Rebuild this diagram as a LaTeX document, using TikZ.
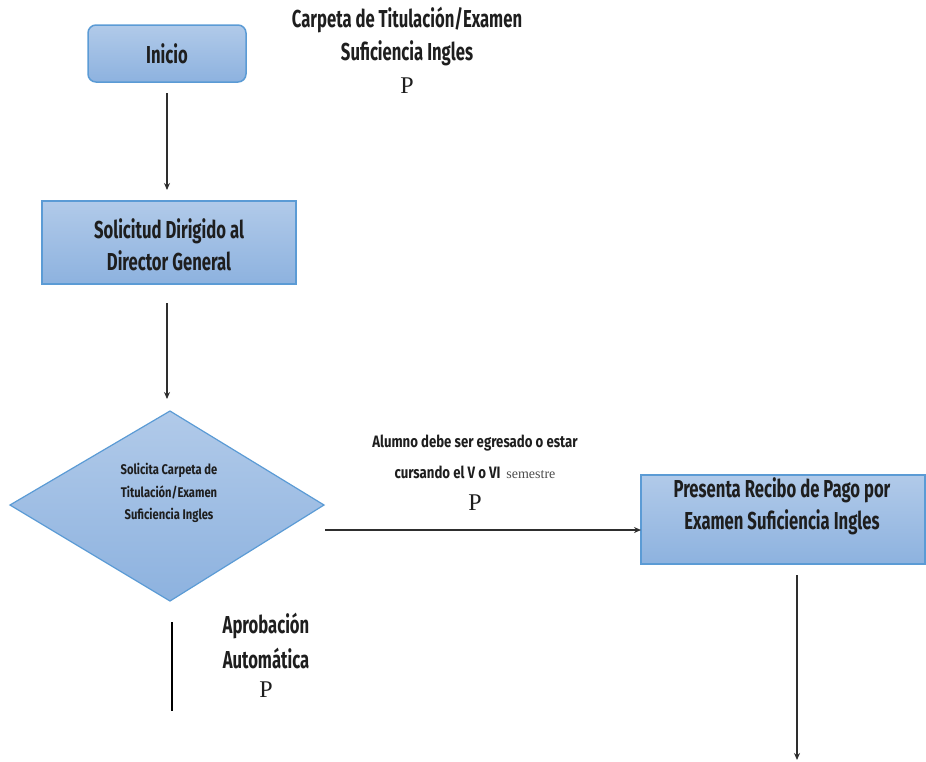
\documentclass[tikz,border=0pt]{standalone}
\usepackage{fontspec}
\usetikzlibrary{arrows.meta}
\newfontfamily\labelfont[FakeStretch=0.68]{Fira Sans}
\newfontfamily\notefont[FakeStretch=0.8]{Fira Sans}
\newfontfamily\serifP{Liberation Serif}
\definecolor{boxtop}{HTML}{B1CAE9}
\definecolor{boxbot}{HTML}{8DB2DF}
\definecolor{boxline}{HTML}{5B9BD5}
\definecolor{flow}{HTML}{2E2E2E}
\definecolor{ink}{HTML}{1E1E1E}
\tikzset{
  x=1pt, y=-1pt,
  boxfill/.style={draw=boxline, line width=1.5pt, top color=boxtop, bottom color=boxbot},
  lbl/.style={font=\labelfont\bfseries\fontsize{24.5}{32}\selectfont, align=center, text=ink},
  note/.style={font=\notefont\bfseries\fontsize{16.5}{29}\selectfont, align=center, text=ink},
  decision text/.style={font=\notefont\bfseries\fontsize{14}{22.5}\selectfont, align=center, text=ink},
  pmark/.style={font=\serifP\fontsize{24}{24}\selectfont, text=ink},
  flowline/.style={draw=flow, line width=1.4pt},
  flowarrow/.style={flowline, -{Stealth[length=7pt,width=6pt]}},
}
\begin{document}
\begin{tikzpicture}
\useasboundingbox (0,0) rectangle (926,761);

% start box
\path[boxfill, rounded corners=8pt] (88,25) rectangle (246,82);
\node[lbl] (inicio) at (167,54) {Inicio};
\coordinate (inicioS) at (167,93);

% header caption
\node[lbl] (cap1) at (407,20) {Carpeta de Titulación/Examen};
\node[lbl] (cap2) at (407,53) {Suficiencia Ingles};
\node[pmark] (cap3) at (407,86) {P};

% request box
\path[boxfill] (42,201) rectangle (296,284);
\node[lbl] (sol) at (169,245) {Solicitud Dirigido al\\Director General};
\coordinate (solN) at (167,190);
\coordinate (solS) at (167,303);

% decision
\path[boxfill, line width=1.2pt] (10,505) -- (170,411) -- (324,505) -- (170,601) -- cycle;
\node[decision text] (dec) at (169,493) {Solicita Carpeta de\\Titulación/Examen\\Suficiencia Ingles};
\coordinate (decN) at (167,399);
\coordinate (decE) at (325,530);

% payment box
\path[boxfill] (641,475) rectangle (925,564);
\node[lbl] (pago) at (782,506) {Presenta Recibo de Pago por\\Examen Suficiencia Ingles};
\coordinate (pagoW) at (641,530);
\coordinate (pagoS) at (797,575);
\coordinate (pagoEnd) at (797,760);

% condition note
\node[note] (cond1) at (475,443) {Alumno debe ser egresado o estar};
\node[note] (cond2) at (475,472) {cursando el V o VI \,{\serifP\mdseries\fontsize{14}{14}\selectfont\color{black!70}semestre}};
\node[pmark] (cond3) at (475,503) {P};

% automatic approval
\coordinate (autoTop) at (172,622);
\coordinate (autoBot) at (172,711);
\node[lbl] (auto1) at (266,626) {Aprobación};
\node[lbl] (auto2) at (266,658) {Automática};
\node[pmark] (auto3) at (266,690) {P};

% connectors
\draw[flowarrow] (inicioS) -- (solN);
\draw[flowarrow] (solS) -- (decN);
\draw[flowarrow] (decE) -- (pagoW);
\draw[flowarrow] (pagoS) -- (pagoEnd);
\draw[line width=2.5pt, black] (autoTop) -- (autoBot);
\end{tikzpicture}
\end{document}
